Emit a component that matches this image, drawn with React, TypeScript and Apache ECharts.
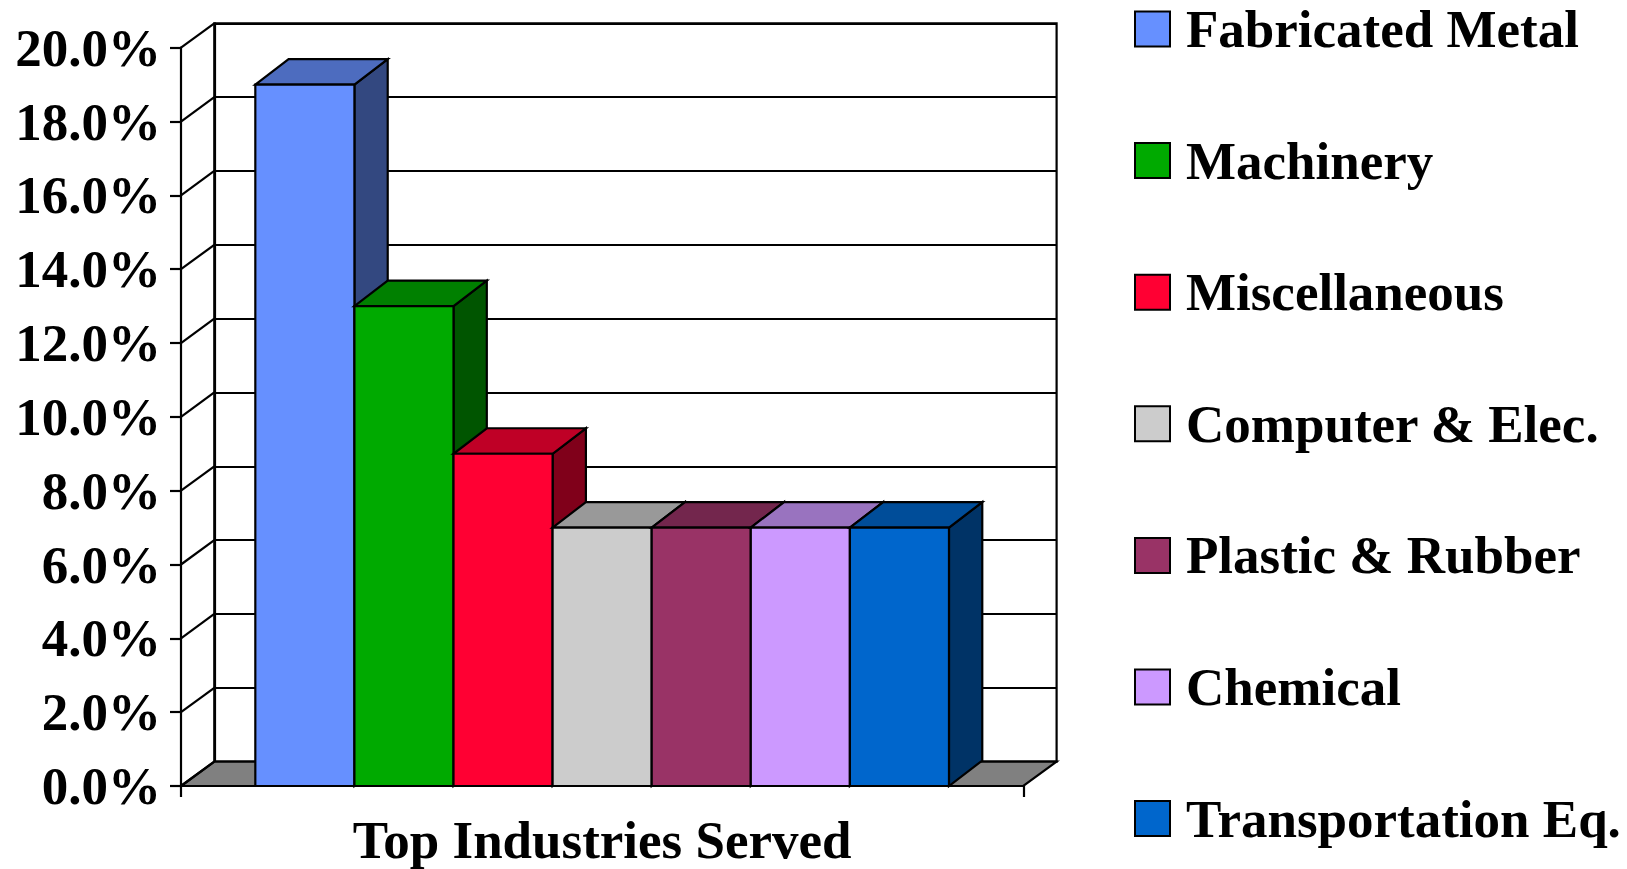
import React, { useEffect, useRef } from "react";
import * as echarts from "echarts";

const categories = ["Top Industries Served"];
const industries = [
  "Fabricated Metal",
  "Machinery",
  "Miscellaneous",
  "Computer & Elec.",
  "Plastic & Rubber",
  "Chemical",
  "Transportation Eq.",
];
const shares = [19.0, 13.0, 9.0, 7.0, 7.0, 7.0, 7.0];
const colors = ["#6690FF", "#00AA00", "#FF0033", "#CCCCCC", "#993366", "#CC99FF", "#0066CC"];
const yTicks = [0, 2, 4, 6, 8, 10, 12, 14, 16, 18, 20];

const FONT = "'Liberation Serif', 'Times New Roman', serif";
const WALL_DX = 33.3;
const WALL_DY = 24.4;
const BAR_DX = 33.3;
const BAR_DY = 25.5;
const GAP_WIDTH = 1.5;

function shade(hex: string, f: number): string {
  const n = parseInt(hex.slice(1), 16);
  const r = Math.round(((n >> 16) & 255) * f);
  const g = Math.round(((n >> 8) & 255) * f);
  const b = Math.round((n & 255) * f);
  return "rgb(" + r + "," + g + "," + b + ")";
}

export default function App() {
  const ref = useRef<HTMLDivElement>(null);
  useEffect(() => {
    document.body.style.margin = "0";
    const chart = echarts.init(ref.current!, null, { renderer: "svg" });
    const front = { left: 181, top: 47.7, width: 842.3, height: 738.3 };
    const n = industries.length;

    const barSeries = industries.map((name, i) => ({
      type: "custom",
      name,
      xAxisIndex: 0,
      yAxisIndex: 0,
      z: 5 + i,
      itemStyle: { color: colors[i] },
      data: [[0, shares[i]]],
      renderItem: (params: any, api: any) => {
        const top = api.coord([api.value(0), api.value(1)]);
        const base = api.coord([api.value(0), 0]);
        const band = api.size([1, 0])[0];
        const barW = band / (n + GAP_WIDTH);
        const x0 = top[0] - (barW * n) / 2 + i * barW;
        const x1 = x0 + barW;
        const yT = top[1];
        const yB = base[1];
        const stroke = { stroke: "#000", lineWidth: 2.2, lineJoin: "miter" };
        return {
          type: "group",
          children: [
            {
              type: "polygon",
              shape: {
                points: [
                  [x1, yT],
                  [x1 + BAR_DX, yT - BAR_DY],
                  [x1 + BAR_DX, yB - BAR_DY],
                  [x1, yB],
                ],
              },
              style: { fill: shade(colors[i], 0.5), ...stroke },
            },
            {
              type: "polygon",
              shape: {
                points: [
                  [x0, yT],
                  [x1, yT],
                  [x1 + BAR_DX, yT - BAR_DY],
                  [x0 + BAR_DX, yT - BAR_DY],
                ],
              },
              style: { fill: shade(colors[i], 0.75), ...stroke },
            },
            {
              type: "rect",
              shape: { x: x0, y: yT, width: barW, height: yB - yT },
              style: { fill: colors[i], ...stroke },
            },
          ],
        };
      },
    }));

    const option: any = {
      animation: false,
      backgroundColor: "#fff",
      grid: [
        { ...front, show: false },
        {
          left: front.left + WALL_DX,
          top: front.top - WALL_DY,
          width: front.width,
          height: front.height,
          show: true,
          backgroundColor: "#fff",
          borderColor: "#000",
          borderWidth: 2.2,
        },
      ],
      xAxis: [
        {
          type: "category",
          gridIndex: 0,
          data: categories,
          axisLine: { show: true, lineStyle: { color: "#000", width: 2.2 } },
          axisTick: { show: true, length: 11, lineStyle: { color: "#000", width: 2.2 } },
          axisLabel: {
            show: true,
            margin: 27,
            color: "#000",
            fontSize: 53,
            fontWeight: "bold",
            fontFamily: FONT,
          },
          splitLine: { show: false },
        },
        {
          type: "category",
          gridIndex: 1,
          data: categories,
          show: false,
        },
      ],
      yAxis: [
        {
          type: "value",
          gridIndex: 0,
          min: 0,
          max: 20,
          interval: 2,
          axisLine: { show: true, lineStyle: { color: "#000", width: 2.2 } },
          axisTick: { show: true, length: 11, lineStyle: { color: "#000", width: 2.2 } },
          axisLabel: {
            margin: 20,
            color: "#000",
            fontSize: 53,
            fontWeight: "bold",
            fontFamily: FONT,
            formatter: (v: number) => v.toFixed(1) + "%",
          },
          splitLine: { show: false },
        },
        {
          type: "value",
          gridIndex: 1,
          min: 0,
          max: 20,
          interval: 2,
          axisLine: { show: true, lineStyle: { color: "#000", width: 2.2 } },
          axisTick: { show: false },
          axisLabel: { show: false },
          splitLine: { show: true, lineStyle: { color: "#000", width: 2.2 } },
        },
      ],
      legend: {
        orient: "vertical",
        left: 1134,
        top: 2.5,
        padding: 0,
        itemWidth: 35,
        itemHeight: 35,
        itemGap: 78.6,
        selectedMode: false,
        icon: "rect",
        textStyle: {
          color: "#000",
          fontSize: 53,
          fontWeight: "bold",
          fontFamily: FONT,
          lineHeight: 53,
          padding: [0, 0, 0, 11],
        },
        data: industries.map((name, i) => ({
          name,
          icon: "rect",
          itemStyle: { color: colors[i], borderColor: "#000", borderWidth: 2 },
        })),
      },
      series: [
        {
          type: "custom",
          name: "floor",
          xAxisIndex: 0,
          yAxisIndex: 0,
          z: 2,
          data: [[0, 0]],
          renderItem: (params: any, api: any) => {
            const cs = params.coordSys;
            const y0 = api.coord([0, 0])[1];
            const xl = cs.x;
            const xr = cs.x + cs.width;
            return {
              type: "polygon",
              shape: {
                points: [
                  [xl, y0],
                  [xr, y0],
                  [xr + WALL_DX, y0 - WALL_DY],
                  [xl + WALL_DX, y0 - WALL_DY],
                ],
              },
              style: { fill: "#808080", stroke: "#000", lineWidth: 2.2 },
            };
          },
        },
        {
          type: "custom",
          name: "sidewall",
          xAxisIndex: 0,
          yAxisIndex: 0,
          z: 3,
          data: yTicks.map((v) => [0, v]),
          renderItem: (params: any, api: any) => {
            const cs = params.coordSys;
            const y = api.coord([0, api.value(1)])[1];
            return {
              type: "line",
              shape: { x1: cs.x, y1: y, x2: cs.x + WALL_DX, y2: y - WALL_DY },
              style: { stroke: "#000", lineWidth: 2.2 },
            };
          },
        },
        ...barSeries,
      ],
    };
    chart.setOption(option);
    return () => chart.dispose();
  }, []);
  return (
    <div
      ref={ref}
      style={{ position: "absolute", left: 0, top: 0, width: 1627, height: 869 }}
    />
  );
}
